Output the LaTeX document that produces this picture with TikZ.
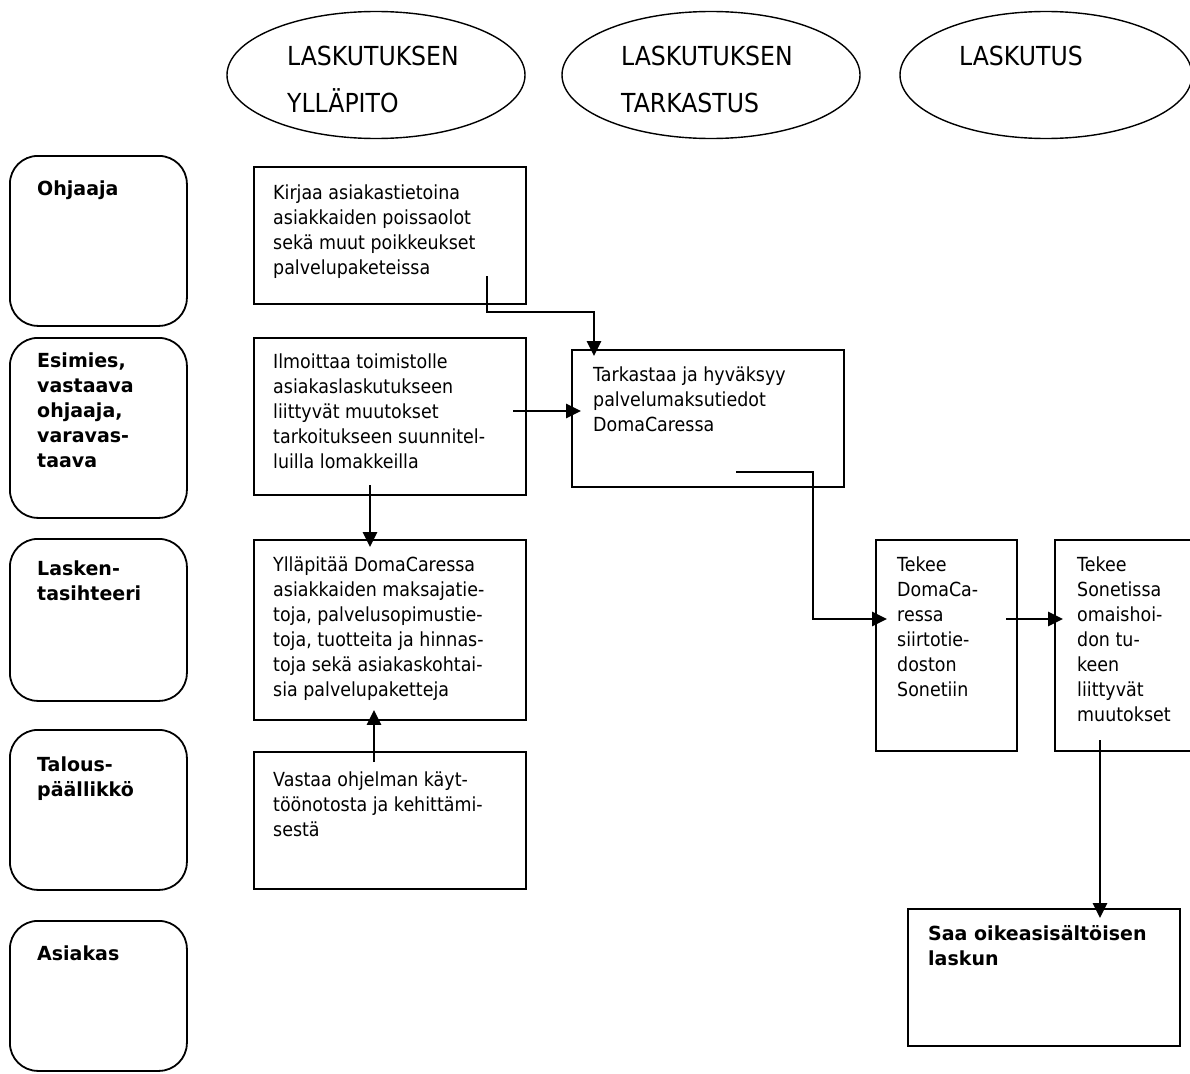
\documentclass[tikz,border=0pt]{standalone}
\usepackage{fontspec}
\setmainfont{DejaVu Sans}[FakeStretch=0.9]
\newfontfamily\labfont{DejaVu Sans}[FakeStretch=0.98]
\usetikzlibrary{shapes.geometric,arrows.meta}
\newcommand{\fsz}{\fontsize{19.4}{25}\selectfont}
\newcommand{\stl}{\rule{0pt}{16pt}}
\newcommand{\sth}{\rule{0pt}{20pt}}
\begin{document}
\begin{tikzpicture}[x=1pt,y=-1pt,
 lane/.style={draw,line width=1.8pt,rounded corners=28pt,minimum width=177pt,inner sep=0pt,anchor=north west},
 box/.style={draw,line width=1.9pt,inner sep=0pt,anchor=north west},
 head/.style={draw,ellipse,line width=1.4pt,inner sep=0pt,minimum height=127pt},
 txt/.style={inner sep=0pt,anchor=north west,align=left,font=\fsz},
 btxt/.style={inner sep=0pt,anchor=north west,align=left,font=\labfont\fsz\bfseries},
 htxt/.style={inner sep=0pt,anchor=north west,align=left,font=\fontsize{26.2}{47}\selectfont},
 arr/.style={line width=2.8pt,-{Triangle[length=15pt,width=14pt]}}]
\useasboundingbox (0,0) rectangle (1190,1073);
\fill[white] (0,0) rectangle (1190,1073);

% column headers
\node[head,minimum width=298pt] (e1) at (376,75) {};
\node[head,minimum width=298pt] (e2) at (711,75) {};
\node[head,minimum width=292pt] (e3) at (1046,75) {};
\node[htxt] (e1t) at (287,45) {\sth LASKUTUKSEN\\YLLÄPITO};
\node[htxt] (e2t) at (621,45) {\sth LASKUTUKSEN\\TARKASTUS};
\node[htxt] (e3t) at (959,45) {\sth LASKUTUS};

% lanes
\node[lane,minimum height=170pt] (l1) at (9,155) {};
\node[lane,minimum height=180pt] (l2) at (9,337) {};
\node[lane,minimum height=162pt] (l3) at (9,538) {};
\node[lane,minimum height=160pt] (l4) at (9,729) {};
\node[lane,minimum height=150pt] (l5) at (9,920) {};
\node[btxt] (l1t) at (37,179) {\stl Ohjaaja};
\node[btxt] (l2t) at (37,351) {\stl Esimies,\\vastaava\\ohjaaja,\\varavas-\\taava};
\node[btxt] (l3t) at (37,559) {\stl Lasken-\\tasihteeri};
\node[btxt] (l4t) at (37,755) {\stl Talous-\\päällikkö};
\node[btxt] (l5t) at (37,944) {\stl Asiakas};

% boxes
\node[box,minimum width=272pt,minimum height=137pt] (b1) at (253,166) {};
\node[box,minimum width=272pt,minimum height=157pt] (b2) at (253,337) {};
\node[box,minimum width=272pt,minimum height=180pt] (b3) at (253,539) {};
\node[box,minimum width=272pt,minimum height=137pt] (b4) at (253,751) {};
\node[box,minimum width=272pt,minimum height=137pt] (tk) at (571,349) {};
\node[box,minimum width=141pt,minimum height=211pt] (t1) at (875,539) {};
\node[box,minimum width=150pt,minimum height=211pt] (t2) at (1054,539) {};
\node[box,minimum width=272pt,minimum height=137pt] (sa) at (907,908) {};

\node[txt] (b1t) at (273,183) {\stl Kirjaa asiakastietoina\\asiakkaiden poissaolot\\sekä muut poikkeukset\\palvelupaketeissa};
\node[txt] (b2t) at (273,352) {\stl Ilmoittaa toimistolle\\asiakaslaskutukseen\\liittyvät muutokset\\tarkoitukseen suunnitel-\\luilla lomakkeilla};
\node[txt] (b3t) at (273,555) {\stl Ylläpitää DomaCaressa\\asiakkaiden maksajatie-\\toja, palvelusopimustie-\\toja, tuotteita ja hinnas-\\toja sekä asiakaskohtai-\\sia palvelupaketteja};
\node[txt] (b4t) at (273,770) {\stl Vastaa ohjelman käyt-\\töönotosta ja kehittämi-\\sestä};
\node[txt] (tkt) at (593,365) {\stl Tarkastaa ja hyväksyy\\palvelumaksutiedot\\DomaCaressa};
\node[txt] (t1t) at (897,555) {\stl Tekee\\DomaCa-\\ressa\\siirtotie-\\doston\\Sonetiin};
\node[txt] (t2t) at (1077,555) {\stl Tekee\\Sonetissa\\omaishoi-\\don tu-\\keen\\liittyvät\\muutokset};
\node[btxt] (sat) at (928,924) {\stl Saa oikeasisältöisen\\laskun};

% connector start points (inside source boxes)
\coordinate (s1) at (487,276);
\coordinate (k1) at (594,312);
\coordinate (s2) at (513,411);
\coordinate (s3) at (370,485);
\coordinate (s4) at (374,762);
\coordinate (s5) at (736,472);
\coordinate (k5) at (813,619);
\coordinate (s6) at (1006,619);
\coordinate (s7) at (1100,740);

\draw[arr,shorten >=-7pt] (s1) |- (k1) -- (k1 |- tk.north);
\draw[arr,shorten >=-10pt] (s2) -- (s2 -| tk.west);
\draw[arr,shorten >=-8pt] (s3) -- (s3 |- b3.north);
\draw[arr,shorten >=-11pt] (s4) -- (s4 |- b3.south);
\draw[arr,shorten >=-12pt] (s5) -| (k5) -- (k5 -| t1.west);
\draw[arr,shorten >=-9pt] (s6) -- (s6 -| t2.west);
\draw[arr,shorten >=-10pt] (s7) -- (s7 |- sa.north);
\end{tikzpicture}
\end{document}
